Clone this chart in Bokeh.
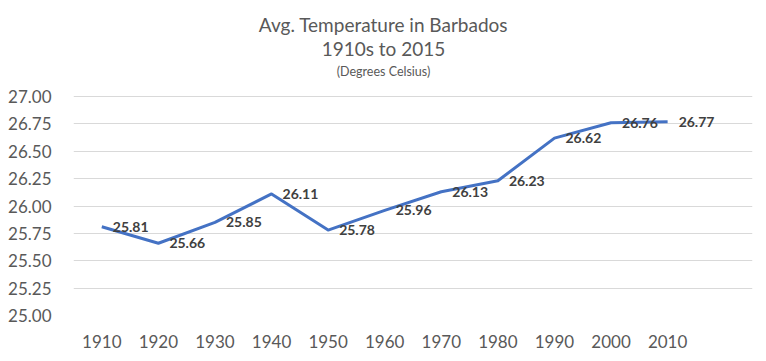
from bokeh.plotting import figure
from bokeh.models import FactorRange, Range1d, Label, FixedTicker, ColumnDataSource, NumeralTickFormatter
from bokeh.core.properties import value
from bokeh.embed import file_html
from bokeh.resources import INLINE

years = ["1910", "1920", "1930", "1940", "1950", "1960", "1970", "1980", "1990", "2000", "2010"]
temps = [25.81, 25.66, 25.85, 26.11, 25.78, 25.96, 26.13, 26.23, 26.62, 26.76, 26.77]
temp_labels = ["%.2f" % t for t in temps]
y_ticks = [25.00, 25.25, 25.50, 25.75, 26.00, 26.25, 26.50, 26.75, 27.00]
extra_category = [" "]

FONT = "Lato"
GREY = "#595959"

W, H = 766, 361
LEFT, RIGHT, TOP, BOTTOM = 73, 752, 96, 315   # plot area in pixels
# frame reaches the top of the canvas so the titles can sit inside it
y_end = y_ticks[-1] + TOP * (y_ticks[-1] - y_ticks[0]) / (BOTTOM - TOP)

src = ColumnDataSource(dict(x=years, y=temps, t=temp_labels))

p = figure(width=W, height=H,
           x_range=FactorRange(factors=years + extra_category, range_padding=0),
           y_range=Range1d(y_ticks[0], y_end),
           output_backend="svg", toolbar_location=None,
           min_border_left=LEFT, min_border_right=W - RIGHT,
           min_border_top=0, min_border_bottom=H - BOTTOM)
p.outline_line_color = None
p.background_fill_color = "white"
p.border_fill_color = "white"

p.line("x", "y", source=src, line_color="#4472C4", line_width=3, line_join="round")
p.text("x", "y", text="t", source=src, x_offset=11, text_baseline="middle", text_align="left",
       text_font=value(FONT), text_font_style="bold", text_font_size="14px", text_color="#404040")

p.xgrid.grid_line_color = None
p.ygrid.grid_line_color = "#D9D9D9"
p.ygrid.grid_line_width = 1
p.yaxis.ticker = FixedTicker(ticks=y_ticks)
p.yaxis.formatter = NumeralTickFormatter(format="0.00")

for ax in (p.xaxis[0], p.yaxis[0]):
    ax.axis_line_color = None
    ax.major_tick_line_color = None
    ax.minor_tick_line_color = None
    ax.major_tick_out = 0
    ax.major_tick_in = 0
    ax.minor_tick_out = 0
    ax.major_label_text_font = FONT
    ax.major_label_text_font_size = "17px"
    ax.major_label_text_color = GREY
p.yaxis.major_label_standoff = 22
p.xaxis.major_label_standoff = 15

cx = W / 2 - LEFT
for txt, base, size in [("Avg. Temperature in Barbados", 24, "19px"),
                        ("1910s to 2015", 48, "19px"),
                        ("(Degrees Celsius)", 71, "12.5px")]:
    p.add_layout(Label(x=cx, y=BOTTOM - base, x_units="screen", y_units="screen", text=txt,
                       text_align="center", text_baseline="alphabetic",
                       text_font=FONT, text_font_size=size, text_color=GREY))

open("out.html", "w").write(file_html(p, INLINE))
